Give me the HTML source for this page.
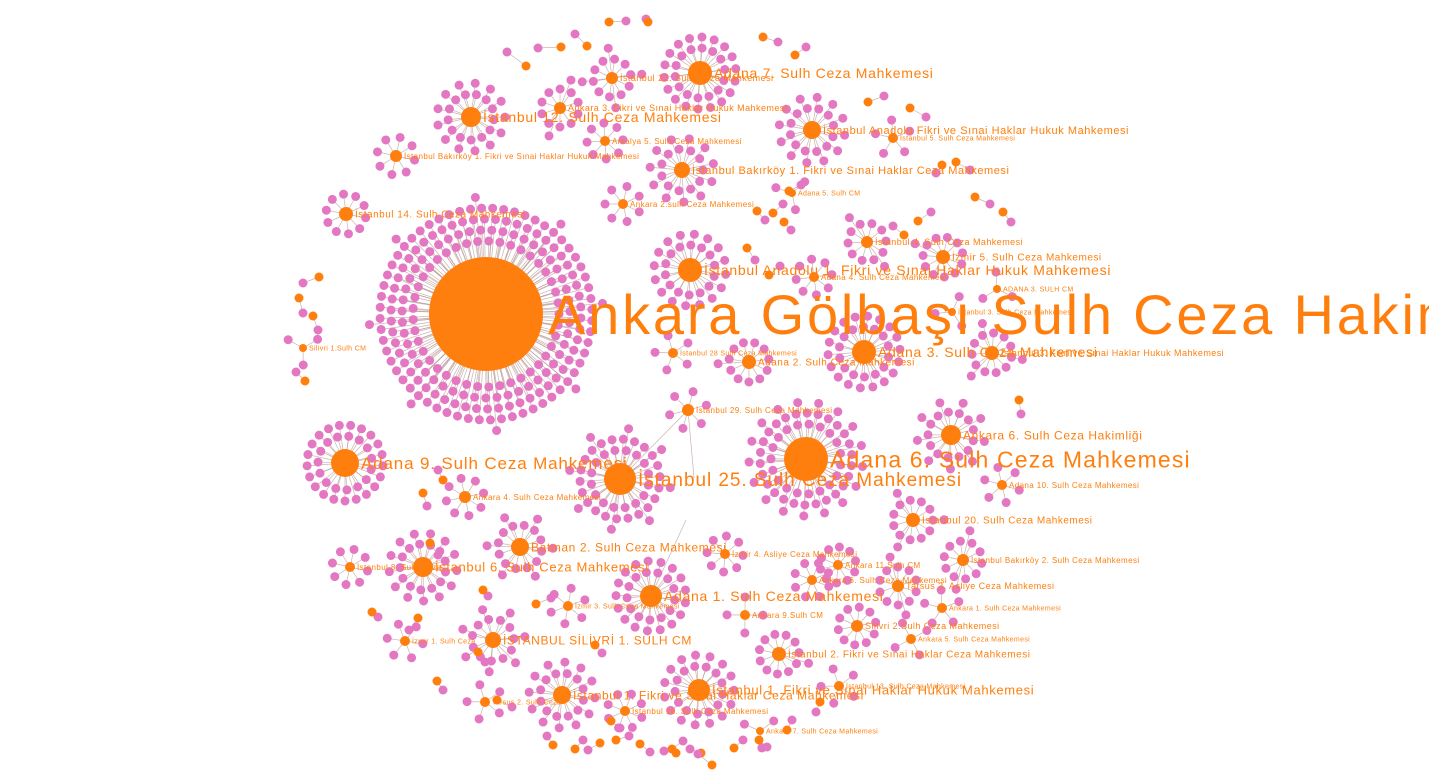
<!DOCTYPE html>
<html><head><meta charset="utf-8"><style>
html,body{margin:0;padding:0;background:#fff;width:1429px;height:774px;overflow:hidden}
svg{display:block}
text{font-family:"Liberation Sans",sans-serif;fill:#ff7f0e;letter-spacing:0.05em}
</style></head><body>
<svg id="g" width="1429" height="774"></svg>
<script>
const hubNames=["Ankara Gölbaşı Sulh Ceza Hakimliği","Adana 6. Sulh Ceza Mahkemesi","İstanbul 25. Sulh Ceza Mahkemesi","Adana 9. Sulh Ceza Mahkemesi","Adana 3. Sulh Ceza Mahkemesi","İstanbul Anadolu 1. Fikri ve Sınai Haklar Hukuk Mahkemesi","Adana 7. Sulh Ceza Mahkemesi","İstanbul 12. Sulh Ceza Mahkemesi","İstanbul Bakırköy 1. Fikri ve Sınai Haklar Ceza Mahkemesi","İstanbul Anadolu Fikri ve Sınai Haklar Hukuk Mahkemesi","Adana 1. Sulh Ceza Mahkemesi","İstanbul 1. Fikri ve Sınai Haklar Hukuk Mahkemesi","İstanbul 1. Fikri ve Sınai Haklar Ceza Mahkemesi","İstanbul 6. Sulh Ceza Mahkemesi","Batman 2. Sulh Ceza Mahkemesi","Ankara 6. Sulh Ceza Hakimliği","İstanbul 20. Sulh Ceza Mahkemesi","İSTANBUL SİLİVRİ 1. SULH CM","Adana 2. Sulh Ceza Mahkemesi","İzmir 5. Sulh Ceza Mahkemesi","İstanbul 4. Sulh Ceza Mahkemesi","İstanbul 22. Sulh Ceza Mahkemesi","Ankara 3. Fikri ve Sınai Haklar Hukuk Mahkemesi","İstanbul 14. Sulh Ceza Mahkemesi","İstanbul Bakırköy 1. Fikri ve Sınai Haklar Hukuk Mahkemesi","İstanbul 2. Fikri ve Sınai Haklar Ceza Mahkemesi","Silivri 2.Sulh Ceza Mahkemesi","Tarsus 3. Asliye Ceza Mahkemesi","İstanbul Bakırköy 2. Sulh Ceza Mahkemesi","İstanbul 3. Fikri ve Sınai Haklar Hukuk Mahkemesi","İzmir 4. Asliye Ceza Mahkemesi","Ankara 4. Sulh Ceza Mahkemesi","Adana 10. Sulh Ceza Mahkemesi","İstanbul 29. Sulh Ceza Mahkemesi","İstanbul 28 Sulh Ceza Mahkemesi","Ankara 2.sulh Ceza Mahkemesi","Antalya 5. Sulh Ceza Mahkemesi","İzmir 3. Sulh Ceza Mahkemesi","İzmir 1. Sulh Ceza","Tarsus 2. Sulh Ceza","İstanbul 16. Sulh Ceza Mahkemesi","Ankara 11.Sulh CM","Ankara 1. Sulh Ceza Mahkemesi","Ankara 5. Sulh Ceza Mahkemesi","Ankara 9.Sulh CM","Silivri 1.Sulh CM","İstanbul 8. Sulh Ceza","ADANA 3. SULH CM","İstanbul 3. Sulh Ceza Mahkemesi","Ankara 7. Sulh Ceza Mahkemesi","Adana 4. Sulh Ceza Mahkemesi","Ankara 6. Sulh Ceza Mahkemesi","İstanbul 5. Sulh Ceza Mahkemesi","Adana 5. Sulh CM","İstanbul 13. Sulh Ceza Mahkemesi"];
const hubX=[486,806,620,345,864,690,700,471,682,812,651,699,562,423,520,951,913,493,749,943,867,612,560,346,396,779,857,898,963,992,725,465,1002,688,673,623,605,568,405,485,625,838,942,911,745,303,350,997,952,760,814,812,893,792,839];
const hubY=[314,459,479,463,352,270,73,117,170,130,596,690,695,567,547,435,520,640,362,257,242,78,108,214,156,654,626,586,560,353,554,497,485,410,353,204,141,606,641,702,711,565,608,639,615,348,567,289,312,731,277,580,138,193,686];
const hubSize=[57,22,16,14,12,12,12,10,8,9,11,11,9,10,9,10,7,8,7,7,6,6,6,7,6,7,6,6,6,7,5,6,5,6,5,5,5,5,5,5,5,5,5,5,5,4,5,4,4,4,5,5,5,4,5];
const leafCount=[210,62,46,36,32,30,32,26,22,24,30,28,24,26,18,22,14,18,12,12,12,14,12,10,8,12,10,12,12,14,8,8,6,6,5,7,8,6,6,5,8,10,5,4,4,3,8,3,3,3,8,8,5,3,5];
const labelSize=[56,23,19,17,14,14,14,14,11,11,14,13,12,13,12,12,10,12,10,10,9,9,9,10,8,10,9,9,8,9,8,8,8,8,7,8,8,7,7,7,8,8,7,7,8,7,8,7,7,7,8,8,7,7,7];
const pairHX=[526,561,587,609,648,763,795,868,910,956,975,1003,1019,942,918,904,789,773,757,747,769,299,319,313,305,372,423,443,483,536,595,616,437,478,575,600,611,640,672,701,734,759,787,820,430,418,497,553,676,712,784];
const pairHY=[66,47,46,22,22,37,55,102,108,162,197,212,400,165,221,235,191,213,211,248,275,298,277,316,381,612,493,480,590,604,645,740,681,652,749,743,721,744,749,753,748,740,730,702,543,618,700,745,753,765,222];
const pairLX=[507,538,575,626,646,778,806,884,926,970,990,1011,1021,936,931,893,801,783,765,755,780,303,303,318,296,378,427,438,488,551,602,629,443,485,583,588,620,650,683,690,743,767,792,816,438,409,512,547,664,698,791];
const pairLY=[52,48,34,21,19,42,47,96,117,170,204,222,414,173,212,226,185,204,220,260,266,313,283,330,372,617,506,470,596,598,653,736,690,662,740,750,728,752,741,749,740,747,720,712,555,630,707,736,751,754,230];

const svg=document.getElementById('g');
const NS='http://www.w3.org/2000/svg';
const edges=document.createElementNS(NS,'g');


const nodes=document.createElementNS(NS,'g');


const labels=document.createElementNS(NS,'g');


svg.appendChild(edges);svg.appendChild(nodes);svg.appendChild(labels);

function line(x1,y1,x2,y2){
  const l=document.createElementNS(NS,'line');
  l.setAttribute('x1',x1);l.setAttribute('y1',y1);l.setAttribute('x2',x2);l.setAttribute('y2',y2);
  l.setAttribute('stroke','#b89a94');l.setAttribute('stroke-width','0.7');l.setAttribute('stroke-opacity','0.75');
  
  
  edges.appendChild(l);
}
function dot(x,y,r,c,name){
  const e=document.createElementNS(NS,'circle');
  e.setAttribute('cx',x);e.setAttribute('cy',y);e.setAttribute('r',r);e.setAttribute('fill',c);
  
  
  nodes.appendChild(e);
}
const PINK='#e377c2',OR='#ff7f0e';
line(688,410,620,479);line(686,520,651,596);line(688,410,694,478);
for(let i=0;i<hubNames.length;i++){
  const cx=hubX[i],cy=hubY[i],r=hubSize[i];
  let left=leafCount[i];
  let rad=r+(i===0?16:13);
  let ring=0;
  while(left>0){
    const cap=Math.max(3,Math.floor(2*Math.PI*rad/11));
    const n=Math.min(cap,left);
    const off=ring*0.37+i*0.5;
    for(let k=0;k<n;k++){
      const a=off+k*2*Math.PI/n;
      const x=cx+rad*Math.cos(a),y=cy+rad*Math.sin(a);
      line(cx,cy,x,y);
      dot(x,y,4.5,PINK,'leaf-node');
    }
    left-=n;rad+=11;ring++;
  }
}
for(let i=0;i<pairHX.length;i++){
  line(pairHX[i],pairHY[i],pairLX[i],pairLY[i]);
  dot(pairLX[i],pairLY[i],4.5,PINK,'pair-leaf');
  dot(pairHX[i],pairHY[i],4.5,OR,'pair-hub');
}
for(let i=0;i<hubNames.length;i++){
  dot(hubX[i],hubY[i],hubSize[i],OR,'court-hub');
  const t=document.createElementNS(NS,'text');
  t.setAttribute('x',hubX[i]+hubSize[i]+(i===0?5:2));
  t.setAttribute('y',hubY[i]+labelSize[i]*0.36);
  t.setAttribute('font-size',labelSize[i]);
  
  
  t.textContent=hubNames[i];
  labels.appendChild(t);
}
</script>
</body></html>
